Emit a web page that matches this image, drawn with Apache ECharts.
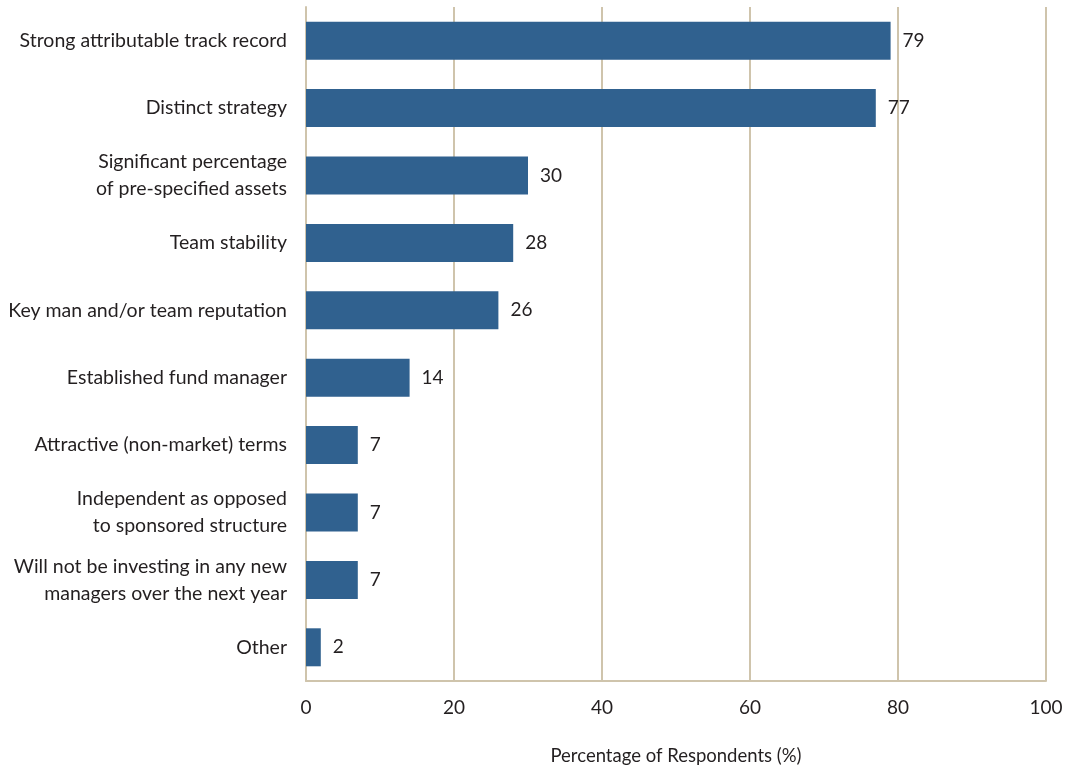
<!DOCTYPE html>
<html>
<head>
<meta charset="utf-8">
<script src="https://cdn.jsdelivr.net/npm/echarts@6/dist/echarts.min.js"></script>
<style>
  html, body { margin: 0; padding: 0; background: #ffffff; }
  #chart { width: 1072px; height: 769px; }
</style>
</head>
<body>
<div id="chart"></div>
<script>
// Reasons cited for backing a new manager, top to bottom
const categories = [
  'Strong attributable track record',
  'Distinct strategy',
  'Significant percentage\nof pre-specified assets',
  'Team stability',
  'Key man and/or team reputation',
  'Established fund manager',
  'Attractive (non-market) terms',
  'Independent as opposed\nto sponsored structure',
  'Will not be investing in any new\nmanagers over the next year',
  'Other'
];
const values = [79, 77, 30, 28, 26, 14, 7, 7, 7, 2];
const xTicks = [0, 20, 40, 60, 80, 100];
const axisTitle = 'Percentage of Respondents (%)';

const font = 'Lato, "Open Sans", sans-serif';
const textColor = '#231f20';
const gridColor = '#cfc4ac';
const barColor = '#30618f';

const chart = echarts.init(document.getElementById('chart'), null, { renderer: 'canvas' });
chart.setOption({
  backgroundColor: '#ffffff',
  animation: false,
  grid: { left: 306, right: 26, top: 7, bottom: 88, containLabel: false, outerBoundsMode: 'none' },
  xAxis: {
    type: 'value',
    min: xTicks[0],
    max: xTicks[xTicks.length - 1],
    interval: 20,
    name: axisTitle,
    nameLocation: 'middle',
    nameGap: 66,
    nameTextStyle: { fontFamily: font, fontSize: 18.5, color: textColor },
    axisLine: { show: true, lineStyle: { color: gridColor, width: 2 } },
    axisTick: { show: false },
    axisLabel: { fontFamily: font, fontSize: 19, color: textColor, margin: 17 },
    splitLine: { show: true, lineStyle: { color: gridColor, width: 2 } }
  },
  yAxis: {
    type: 'category',
    inverse: true,
    data: categories,
    axisLine: { show: true, lineStyle: { color: gridColor, width: 2 } },
    axisTick: { show: false },
    axisLabel: { fontFamily: font, fontSize: 19.5, color: textColor, margin: 19, lineHeight: 27, align: 'right' }
  },
  series: [{
    type: 'bar',
    data: values,
    barWidth: 38,
    itemStyle: { color: barColor },
    label: {
      show: true,
      position: 'right',
      distance: 12,
      fontFamily: font,
      fontSize: 19,
      color: textColor
    }
  }]
});
</script>
</body>
</html>
